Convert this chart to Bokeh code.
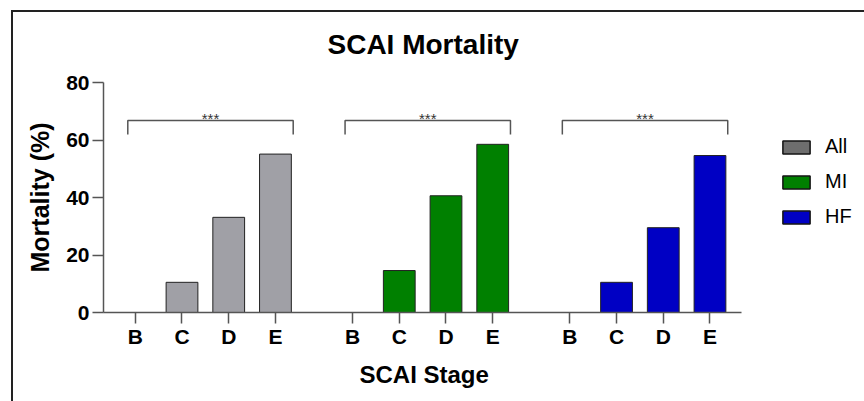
from bokeh.plotting import figure
from bokeh.models import (Range1d, FixedTicker, ColumnDataSource, Legend, LegendItem, Title)
from bokeh.core.properties import value
from bokeh.embed import file_html
from bokeh.resources import INLINE

# ---- data ----
stages = ["B", "C", "D", "E"]
groups = ["All", "MI", "HF"]
all_vals = [0, 10.5, 33.1, 55.1]
mi_vals = [0, 14.6, 40.6, 58.5]
hf_vals = [0, 10.5, 29.5, 54.6]
sig_labels = ["***", "***", "***"]
y_ticks = [0, 20, 40, 60, 80]

bar_colors = ["#A0A0A6", "#008000", "#0000C4"]
legend_colors = ["#6E6E6E", "#008000", "#0000C4"]

FONT = "Liberation Sans"
GROUP_STEP = 4.65
BAR_W = 0.68
X0 = -0.68
X_AXIS_END = 2 * GROUP_STEP + 3 + 0.68

p = figure(width=864, height=401, output_backend="svg", toolbar_location=None,
           x_range=Range1d(X0, 15.5), y_range=Range1d(0, 80),
           min_border_left=103, min_border_right=5, min_border_top=82, min_border_bottom=89)
# outer frame lines (top and left) drawn as page background behind a transparent border area
p.styles = {
    "background-image": "linear-gradient(#222222, #222222), linear-gradient(#222222, #222222)",
    "background-size": "853px 2px, 2px 391px",
    "background-position": "11px 10px, 11px 10px",
    "background-repeat": "no-repeat",
}
p.border_fill_color = None
p.outline_line_color = None
p.xgrid.visible = False
p.ygrid.visible = False
p.background_fill_color = "white"

p.title.text = "SCAI Mortality"
p.title.align = "left"
p.title.offset = 224
p.title.text_font = FONT
p.title.text_font_size = "28px"
p.title.text_font_style = "bold"
p.title.text_color = "black"
p.title.standoff = 46

series = [all_vals, mi_vals, hf_vals]
tick_pos = []
tick_lab = {}
renderers = []
for g, vals in enumerate(series):
    xs = [g * GROUP_STEP + i for i in range(len(stages))]
    for x, s in zip(xs, stages):
        tick_pos.append(x)
        tick_lab[x] = s
    src = ColumnDataSource(dict(x=xs, top=vals))
    p.vbar(x="x", top="top", width=BAR_W, bottom=0, source=src,
           fill_color=bar_colors[g], line_color="#222222", line_width=1)
    # significance bracket
    x0 = xs[0] - 0.16
    x1 = xs[-1] + 0.38
    p.line(x=[x0, x0, x1, x1], y=[61.9, 66.8, 66.8, 61.9], line_color="#555555", line_width=1.5)
    p.text(x=[(x0 + x1) / 2], y=[67.6], text=[sig_labels[g]], text_align="center",
           text_baseline="alphabetic", text_font=value(FONT), text_font_size="15px",
           text_color="#333333")
    # legend swatch renderer (not drawn in plot: NaN top)
    r = p.vbar(x=[0], top=[float("nan")], width=BAR_W, fill_color=legend_colors[g],
               line_color="#111111", line_width=1.5)
    renderers.append(r)

legend = Legend(items=[LegendItem(label=g, renderers=[r]) for g, r in zip(groups, renderers)],
                location=(676, 84), orientation="vertical")
legend.glyph_width = 34
legend.glyph_height = 16
legend.label_height = 20
legend.spacing = 12
legend.label_standoff = 12
legend.padding = 0
legend.margin = 0
legend.border_line_color = None
legend.background_fill_alpha = 0
legend.label_text_font = FONT
legend.label_text_font_size = "20px"
legend.label_text_color = "black"
p.add_layout(legend, "center")

p.xaxis.bounds = (X0, X_AXIS_END)
p.xaxis.ticker = FixedTicker(ticks=tick_pos)
p.xaxis.major_label_overrides = tick_lab
p.xaxis.minor_tick_line_color = None
p.xaxis.major_tick_in = 0
p.xaxis.major_tick_out = 11
p.xaxis.major_label_standoff = 1

xlabel = Title(text="SCAI Stage", align="left", offset=256, vertical_align="top",
               standoff=21, text_font=FONT, text_font_size="24px", text_font_style="bold",
               text_color="black")
p.add_layout(xlabel, "below")

p.yaxis.ticker = FixedTicker(ticks=y_ticks)
p.yaxis.minor_tick_line_color = None
p.yaxis.major_tick_in = 0
p.yaxis.major_tick_out = 11
p.yaxis.major_label_standoff = 3
p.yaxis.axis_label = "Mortality (%)"
p.yaxis.axis_label_standoff = 9

for ax in (p.xaxis, p.yaxis):
    ax.axis_line_color = "#555555"
    ax.axis_line_width = 1.5
    ax.major_tick_line_color = "#555555"
    ax.major_tick_line_width = 1.5
    ax.major_label_text_font = FONT
    ax.major_label_text_font_size = "21px"
    ax.major_label_text_font_style = "bold"
    ax.major_label_text_color = "black"
    ax.axis_label_text_font = FONT
    ax.axis_label_text_font_style = "bold"
    ax.axis_label_text_color = "black"
p.yaxis.axis_label_text_font_size = "25px"

open("out.html", "w").write(file_html(p, INLINE))
